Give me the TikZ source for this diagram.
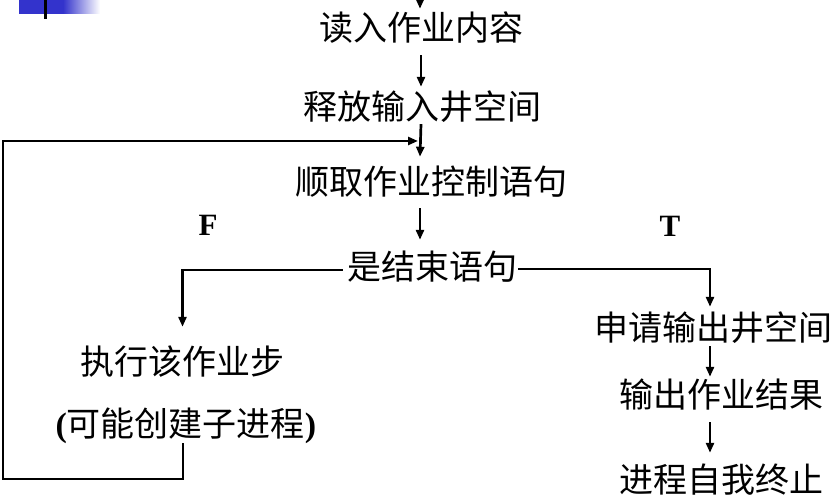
\documentclass[tikz,border=0pt]{standalone}
\usepackage{fontspec}
\usetikzlibrary{arrows.meta}
\newfontfamily\cjk{Noto Sans CJK SC}
\newfontfamily\latinb{Liberation Serif}
\definecolor{slideblue}{RGB}{51,51,204}
\begin{document}
\begin{tikzpicture}[x=1pt,y=-1pt,
  lbl/.style={font=\cjk\fontsize{34}{34}\selectfont, inner sep=0pt, text height=30pt, text depth=4pt},
  tf/.style={font=\latinb\bfseries\fontsize{31}{31}\selectfont, inner sep=0pt},
  arr/.style={line width=2.7pt, -{Triangle[length=10pt,width=8pt]}},
  seg/.style={line width=2.7pt},
  ]
\useasboundingbox (0,0) rectangle (831,502);
% slide decoration
\fill[slideblue] (19,0) rectangle (63,14);
\shade[left color=slideblue, right color=white] (63,0) rectangle (100,14);
\draw[seg] (45.7,0) -- (45.7,19);

% nodes
\node[lbl] (read)    at (421,28)   {读入作业内容};
\node[lbl] (release) at (422,107)  {释放输入井空间};
\node[lbl] (fetch)   at (431,182)  {顺取作业控制语句};
\node[lbl] (isend)   at (432,267)  {是结束语句};
\node[lbl] (exec)    at (182.5,362) {执行该作业步};
\node[lbl] (sub)     at (186,424)  {{\latinb\bfseries(}可能创建子进程{\latinb\bfseries)}};
\node[lbl] (apply)   at (713.5,328) {申请输出井空间};
\node[lbl] (output)  at (721.5,395) {输出作业结果};
\node[lbl] (term)    at (721.5,480) {进程自我终止};
\node[tf]  (F) at (208,225) {F};
\node[tf]  (T) at (670,226) {T};

% connectors
\coordinate (top) at (420,0);
\draw[arr] (top) -- ([xshift=-1pt,yshift=2pt]read.north);
\draw[arr] ([yshift=-10pt]read.south) -- ([xshift=-1pt,yshift=3pt]release.north);
\draw[arr] ([xshift=-1pt]release.south) -- ([xshift=-11pt,yshift=8pt]fetch.north);
\draw[arr] ([xshift=-11pt,yshift=-9pt]fetch.south) -- ([xshift=-12pt,yshift=10pt]isend.north);
\draw[arr] ([xshift=-4pt,yshift=-3pt]isend.west) -| ([yshift=18pt]exec.north);
\draw[arr] ([xshift=1pt,yshift=-2pt]isend.east) -| ([xshift=-3.5pt,yshift=4pt]apply.north);
\draw[arr] ([xshift=-3.5pt,yshift=-1pt]apply.south) -- ([xshift=-11.5pt,yshift=1pt]output.north);
\draw[arr] ([xshift=-11.5pt,yshift=-10pt]output.south) -- ([xshift=-11.5pt,yshift=10pt]term.north);
\coordinate (lb) at (3,479);
\coordinate (lt) at (418,141);
\draw[arr] ([xshift=-3pt,yshift=-2pt]sub.south) |- (lb) |- (lt);
\end{tikzpicture}
\end{document}
